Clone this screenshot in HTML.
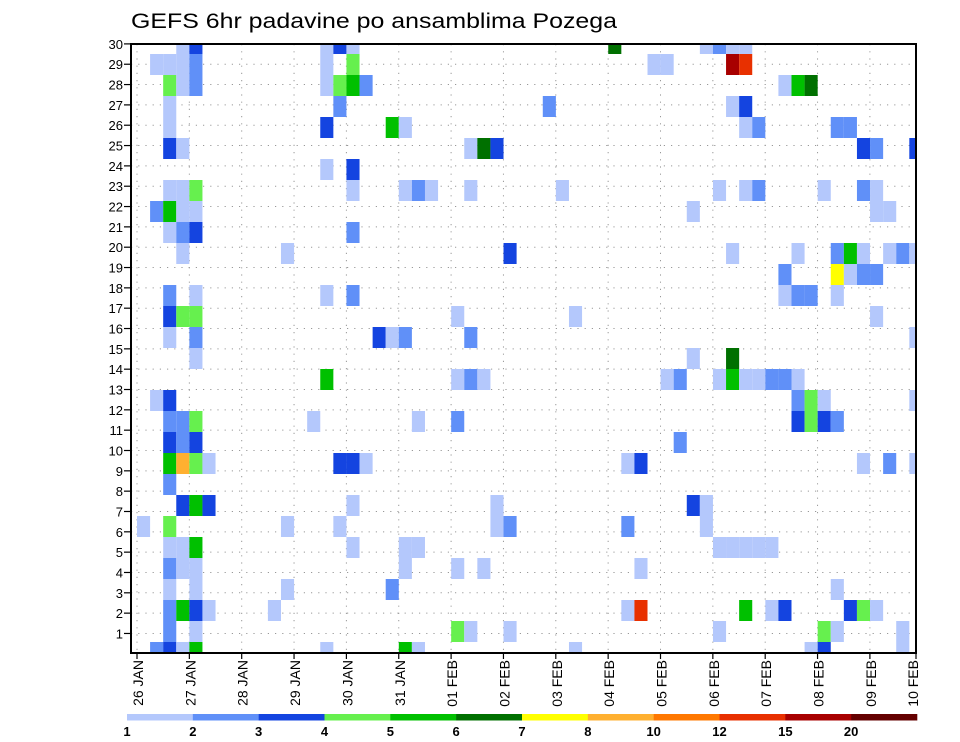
<!DOCTYPE html>
<html><head><meta charset="utf-8"><style>
html,body{margin:0;padding:0;background:#fff;}
svg{display:block;font-family:"Liberation Sans",sans-serif;}
</style></head><body>
<svg id="chart" width="960" height="742" viewBox="0 0 960 742" xmlns="http://www.w3.org/2000/svg">
<defs><clipPath id="plotclip"><rect x="131" y="44" width="785" height="609"/></clipPath></defs>
<rect x="0" y="0" width="960" height="742" fill="#fff"/>
<text x="131" y="28" font-size="21" textLength="486" lengthAdjust="spacingAndGlyphs" fill="#000">GEFS 6hr padavine po ansamblima Pozega</text>
<g id="grid"></g>
<g id="cells" clip-path="url(#plotclip)"></g>
<rect x="131" y="44" width="785" height="609" fill="none" stroke="#000" stroke-width="2"/>
<g id="yaxis"></g>
<g id="xaxis"></g>
<g id="legend"></g>
</svg>
<script>
// Data: column index (6h step since 26 JAN 00z), ensemble member, precipitation mm
const stepIdx = [3,4,14,15,16,36,43,44,45,46, 1,2,3,4,14,16,39,40,45,46, 2,3,4,14,15,16,17,49,50,51, 2,15,31,45,46, 2,14,19,20,46,47,53,54, 2,3,25,26,27,55,56,59, 14,16, 2,3,4,16,20,21,22,25,32,44,46,47,52,55,56, 1,2,3,4,42,56,57, 2,3,4,16, 3,11,28,45,50,53,54,55,57,58,59, 49,53,54,55,56, 2,4,14,16,49,50,51,53, 2,3,4,24,33,56, 2,4,18,19,20,25,59, 4,42,45, 14,24,25,26,40,41,44,45,46,47,48,49,50, 1,2,50,51,52,59, 2,3,4,13,21,24,50,51,52,53, 2,3,4,41, 2,3,4,5,15,16,17,37,38,55,57,59, 2, 3,4,5,16,27,42,43, 0,2,11,15,27,28,37,43, 2,3,4,16,20,21,44,45,46,47,48, 2,3,4,20,24,26,38, 2,4,11,19,53, 2,3,4,5,10,37,38,46,48,49,54,55,56, 2,4,24,25,28,44,52,53,58, 1,2,3,4,14,20,21,33,51,52,58];
const memberRow = [0,0,0,0,0,0,0,0,0,0, 1,1,1,1,1,1,1,1,1,1, 2,2,2,2,2,2,2,2,2,2, 3,3,3,3,3, 4,4,4,4,4,4,4,4, 5,5,5,5,5,5,5,5, 6,6, 7,7,7,7,7,7,7,7,7,7,7,7,7,7,7, 8,8,8,8,8,8,8, 9,9,9,9, 10,10,10,10,10,10,10,10,10,10,10, 11,11,11,11,11, 12,12,12,12,12,12,12,12, 13,13,13,13,13,13, 14,14,14,14,14,14,14, 15,15,15, 16,16,16,16,16,16,16,16,16,16,16,16,16, 17,17,17,17,17,17, 18,18,18,18,18,18,18,18,18,18, 19,19,19,19, 20,20,20,20,20,20,20,20,20,20,20,20, 21, 22,22,22,22,22,22,22, 23,23,23,23,23,23,23,23, 24,24,24,24,24,24,24,24,24,24,24, 25,25,25,25,25,25,25, 26,26,26,26,26, 27,27,27,27,27,27,27,27,27,27,27,27,27, 28,28,28,28,28,28,28,28,28, 29,29,29,29,29,29,29,29,29,29,29];
const precipCode = "LDLDLKLMLL"+"LLLMLgLLQE"+"gLMLgGMLGK"+"LMMLD"+"LDGLLMMM"+"DLLKDDMD"+"LD"+"LLgLLMLLLLLMLML"+"MGLLLLL"+"LMDM"+"LLDLLMGLLML"+"MYLMM"+"MLLMLMML"+"DggLLL"+"LMDLMML"+"LLK"+"GLMLLMLGLLMML"+"LDMgLL"+"MMgLLMDgDM"+"DMDM"+"GOgLDDLLDLML"+"M"+"DGDLLDL"+"LgLLLMML"+"LLGLLLLLLLL"+"MLLLLLL"+"LLLML"+"MGDLLLEGLDDgL"+"MLgLLLgLL"+"MDLGLGLLLDL";
const codeValue = {L:1.5,M:2.5,D:3.5,g:4.5,G:5.5,K:6.5,Y:7.5,O:9,R:11,E:13,Q:17,Z:25};
const precipValues = precipCode.split("").map(c => codeValue[c]);
const members = memberRow.map(r => 30 - r);
const levels = [1,2,3,4,5,6,7,8,10,12,15,20];
const levelColors = ["#b4c8fc","#6090f8","#1444e0","#66f04e","#00c000","#007000","#ffff00","#ffb030","#ff7800","#e83000","#a80000","#640000"];
const dayLabels = ["26 JAN","27 JAN","28 JAN","29 JAN","30 JAN","31 JAN","01 FEB","02 FEB","03 FEB","04 FEB","05 FEB","06 FEB","07 FEB","08 FEB","09 FEB","10 FEB"];
const memberTicks = [1,2,3,4,5,6,7,8,9,10,11,12,13,14,15,16,17,18,19,20,21,22,23,24,25,26,27,28,29,30];

const NS = "http://www.w3.org/2000/svg";
function mk(tag, attrs, parent){const e=document.createElementNS(NS,tag);for(const k in attrs)e.setAttribute(k,attrs[k]);parent.appendChild(e);return e;}
function xStep(k){return 137 + k*13.09;}
function xDay(d){return Math.min(916, 137 + d*52.35);}
function yCellTop(m){return 54 + 21*(29 - m);}
function yTick(m){return 653.8 - 20.33*m;}
function colorFor(v){let c=null;for(let i=0;i<levels.length;i++){if(v>=levels[i])c=levelColors[i];}return c;}

const grid=document.getElementById('grid'), cells=document.getElementById('cells'),
      yax=document.getElementById('yaxis'), xax=document.getElementById('xaxis'), leg=document.getElementById('legend');

for(let d=0; d<15; d++){
  const x=xDay(d);
  const gl=mk('line',{x1:x,y1:44,x2:x,y2:653,stroke:'#999','stroke-width':1,'stroke-dasharray':'1.2,6'},grid);
  
  
}
memberTicks.forEach(m=>{
  const y=yTick(m);
  const gl=mk('line',{x1:131,y1:y,x2:916,y2:y,stroke:'#999','stroke-width':1,'stroke-dasharray':'1.2,6'},grid);
  
  
  const tk=mk('line',{x1:124,y1:y,x2:131,y2:y,stroke:'#000','stroke-width':1.2},yax);
  
  
  const t=mk('text',{x:123,y:y+5,'font-size':13,'text-anchor':'end',fill:'#000'},yax);
  t.textContent=String(m);
  
  
});

for(let i=0;i<stepIdx.length;i++){
  const x0=xStep(stepIdx[i]), x1=xStep(stepIdx[i]+1);
  const y0=yCellTop(members[i]);
  const r=mk('rect',{x:x0,y:y0,width:x1-x0,height:21,fill:colorFor(precipValues[i])},cells);
  
  
}

dayLabels.forEach((lab,d)=>{
  const x=xDay(d);
  const tk=mk('line',{x1:x,y1:653,x2:x,y2:659,stroke:'#000','stroke-width':1.2},xax);
  
  
  const tx = d===15 ? 913 : x+1;
  const t=mk('text',{x:0,y:0,'font-size':14,'text-anchor':'end',fill:'#000',transform:'translate('+(tx+5)+',660) rotate(-90)'},xax);
  t.textContent=lab;
  
  
});

const lx0=127, lx1=917, segW=(lx1-lx0)/levels.length;
levels.forEach((lv,i)=>{
  const r=mk('rect',{x:lx0+i*segW,y:714,width:segW+0.3,height:6.5,fill:levelColors[i]},leg);
  
  
  const t=mk('text',{x:lx0+i*segW,y:736,'font-size':13,'font-weight':'bold','text-anchor':'middle',fill:'#000'},leg);
  t.textContent=String(lv);
  
  
});
</script>
</body></html>
